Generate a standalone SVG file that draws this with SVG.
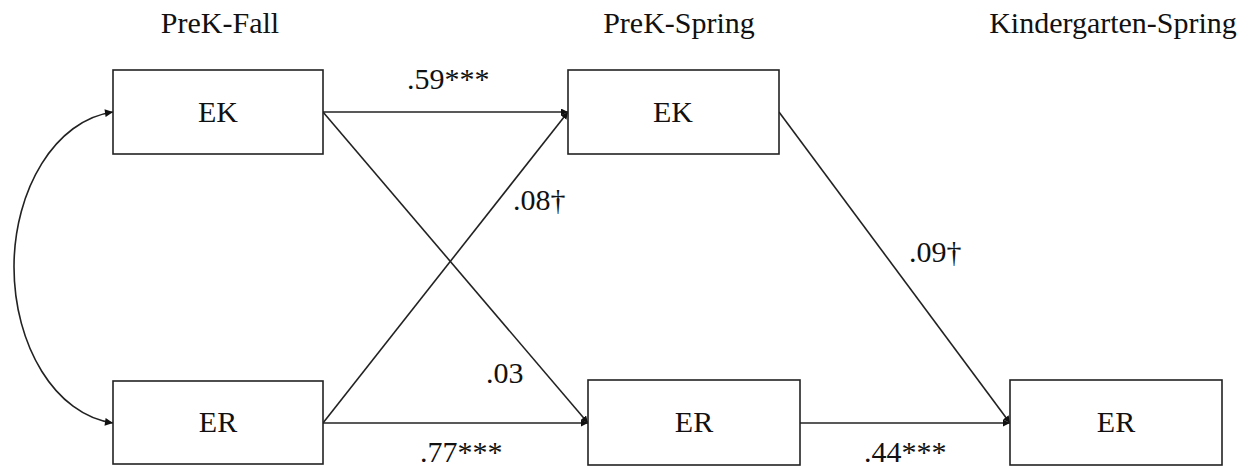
<svg xmlns="http://www.w3.org/2000/svg" width="1252" height="468" viewBox="0 0 1252 468">
  <style>
    .box { fill: #ffffff; stroke: #222222; stroke-width: 1.6; }
    .lbl { font-family: "Liberation Serif", "Times New Roman", serif; font-size: 30px; fill: #111111; }
    .mid { text-anchor: middle; }
    .edge { fill: none; stroke: #222222; stroke-width: 1.6; marker-end: url(#arrow); }
  </style>
  <defs>
    <marker id="arrow" viewBox="0 0 10 10" refX="10" refY="5" markerWidth="7" markerHeight="7" markerUnits="userSpaceOnUse" orient="auto">
      <path d="M0,0 L10,5 L0,10 z" fill="#111111"/>
    </marker>
    <marker id="arrowc" viewBox="0 0 10 10" refX="10" refY="5" markerWidth="9" markerHeight="8" markerUnits="userSpaceOnUse" orient="auto">
      <path d="M0,0 L10,5 L0,10 z" fill="#111111"/>
    </marker>
    <marker id="arrowcs" viewBox="0 0 10 10" refX="0" refY="5" markerWidth="9" markerHeight="8" markerUnits="userSpaceOnUse" orient="auto">
      <path d="M10,0 L0,5 L10,10 z" fill="#111111"/>
    </marker>
  </defs>

  <!-- column headers -->
  <g id="headers">
    <text class="lbl mid" x="220" y="33">PreK-Fall</text>
    <text class="lbl mid" x="679" y="33">PreK-Spring</text>
    <text class="lbl mid" x="1113" y="33">Kindergarten-Spring</text>
  </g>

  <!-- paths between measures -->
  <g id="connectors">
    <path class="edge" d="M323,112 L568,112"/>
    <path class="edge" d="M323,423 L588,423"/>
    <path class="edge" d="M800,423 L1010,423"/>
    <path class="edge" d="M323,112 L588,423"/>
    <path class="edge" d="M323,423 L568,112"/>
    <path class="edge" d="M779,112 L1010,423"/>
    <!-- correlation between the two fall measures -->
    <path d="M113,112 C55,120 14,190 14,267 C14,345 55,415 113,423" fill="none" stroke="#222222" stroke-width="1.6" marker-start="url(#arrowcs)" marker-end="url(#arrowc)"/>
  </g>

  <!-- coefficient labels -->
  <g id="coefficients">
    <text class="lbl" x="407" y="89">.59***</text>
    <text class="lbl" x="513" y="210">.08†</text>
    <text class="lbl" x="909" y="262">.09†</text>
    <text class="lbl" x="486" y="383">.03</text>
    <text class="lbl" x="420" y="462">.77***</text>
    <text class="lbl" x="864" y="462">.44***</text>
  </g>

  <g id="ek-fall">
    <rect class="box" x="113" y="70" width="210" height="84"/>
    <text class="lbl mid" x="218" y="122">EK</text>
  </g>
  <g id="er-fall">
    <rect class="box" x="113" y="381" width="210" height="83"/>
    <text class="lbl mid" x="218" y="432">ER</text>
  </g>
  <g id="ek-spring">
    <rect class="box" x="568" y="70" width="211" height="84"/>
    <text class="lbl mid" x="673" y="122">EK</text>
  </g>
  <g id="er-spring">
    <rect class="box" x="588" y="380" width="212" height="85"/>
    <text class="lbl mid" x="694" y="432">ER</text>
  </g>
  <g id="er-kinder">
    <rect class="box" x="1010" y="380" width="212" height="85"/>
    <text class="lbl mid" x="1116" y="432">ER</text>
  </g>
</svg>
